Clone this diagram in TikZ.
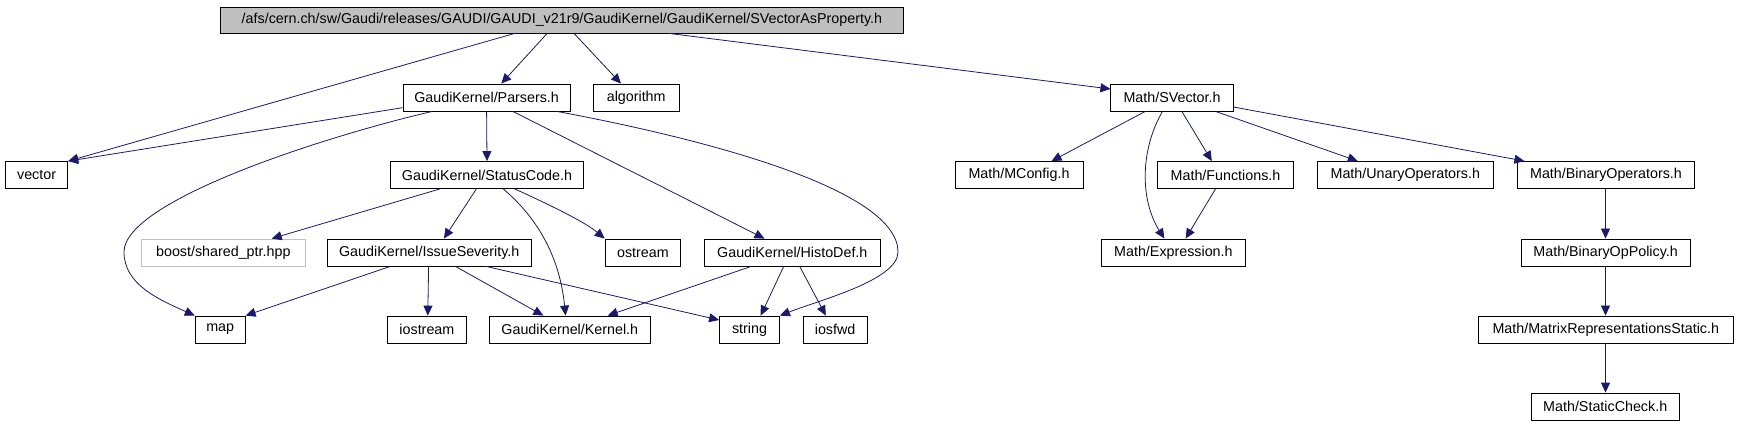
\documentclass[tikz,border=0pt]{standalone}
\usepackage{fontspec}
\setmainfont{Liberation Sans}
\usetikzlibrary{arrows.meta}
\definecolor{edgec}{HTML}{191970}
\definecolor{rootfill}{HTML}{BFBFBF}
\definecolor{grayb}{HTML}{BFBFBF}
\begin{document}
\begin{tikzpicture}[x=1pt,y=-1pt,
  box/.style={draw=black,line width=0.8pt,inner sep=0pt,minimum height=27pt,fill=white,
    font=\fontsize{14.3}{16}\selectfont},
  rootbox/.style={box,fill=rootfill,minimum height=26pt},
  graybox/.style={box,draw=grayb},
  edge/.style={draw=edgec,line width=0.8pt,-{Triangle[length=10pt,width=9pt]}}]
\path[use as bounding box] (0,0) rectangle (1737,427);

% row 0
\node[rootbox,minimum width=683pt] (root) at (561.9,20) {/afs/cern.ch/sw/Gaudi/releases/GAUDI/GAUDI\_v21r9/GaudiKernel/GaudiKernel/SVectorAsProperty.h};
% row 1
\node[box,minimum width=167.2pt] (parsers) at (486.6,97.5) {GaudiKernel/Parsers.h};
\node[box,minimum width=86.1pt] (algorithm) at (636.2,97.5) {algorithm};
\node[box,minimum width=122.3pt] (svector) at (1172,97.5) {Math/SVector.h};
% row 2
\node[box,minimum width=62.3pt] (vector) at (36.6,175) {vector};
\node[box,minimum width=193.3pt] (statuscode) at (487,175) {GaudiKernel/StatusCode.h};
\node[box,minimum width=127.8pt] (mconfig) at (1019,175) {Math/MConfig.h};
\node[box,minimum width=136pt] (functions) at (1225.5,175) {Math/Functions.h};
\node[box,minimum width=176pt] (unary) at (1405.3,175) {Math/UnaryOperators.h};
\node[box,minimum width=177.4pt] (binary) at (1606,175) {Math/BinaryOperators.h};
% row 3
\node[graybox,minimum width=164.2pt] (boost) at (223.3,252.5) {boost/shared\_ptr.hpp};
\node[box,minimum width=204pt] (issue) at (429.2,252.5) {GaudiKernel/IssueSeverity.h};
\node[box,minimum width=75.7pt] (ostream) at (642.9,252.5) {ostream};
\node[box,minimum width=176.4pt] (histodef) at (792.3,252.5) {GaudiKernel/HistoDef.h};
\node[box,minimum width=144.2pt] (expression) at (1173.4,252.5) {Math/Expression.h};
\node[box,minimum width=169.2pt] (binpolicy) at (1605.6,252.5) {Math/BinaryOpPolicy.h};
% row 4
\node[box,minimum width=50pt] (map) at (220.2,329.5) {map};
\node[box,minimum width=79.2pt] (iostream) at (426.9,329.5) {iostream};
\node[box,minimum width=160.7pt] (kernel) at (569.8,329.5) {GaudiKernel/Kernel.h};
\node[box,minimum width=60pt] (string) at (749.5,329.5) {string};
\node[box,minimum width=64pt] (iosfwd) at (835.1,329.5) {iosfwd};
\node[box,minimum width=255pt] (matrix) at (1605.8,329.5) {Math/MatrixRepresentationsStatic.h};
% row 5
\node[box,minimum width=148.2pt] (staticcheck) at (1605.2,406.5) {Math/StaticCheck.h};

% edges
\draw[edge] (root.south -| 514.7,0) -- (vector.north east);
\draw[edge] (parsers.west |- 0,107.7) -- (vector.north east);
\draw[edge] (root.south -| 547.2,0) -- (parsers.north -| 501.3,0);
\draw[edge] (root.south -| 574,0) -- (algorithm.north -| 621,0);
\draw[edge] (root.south -| 668.9,0) -- (svector.west |- 0,89);
\draw[edge] (parsers.south) -- (statuscode.north);
\draw[edge] (parsers.south -| 432.4,0) .. controls (330,135) and (124,200) .. (124,252)
  .. controls (124,285) and (160,300) .. (map.north west);
\draw[edge] (parsers.south -| 512.8,0) -- (histodef.north -| 764.5,0);
\draw[edge] (parsers.south -| 556.8,0) .. controls (710,140) and (898,190) .. (898,252)
  .. controls (898,280) and (820,300) .. (string.north east);
\draw[edge] (statuscode.south -| 440,0) -- (boost.north -| 271.7,0);
\draw[edge] (statuscode.south -| 476.4,0) -- (issue.north -| 443.9,0);
\draw[edge] (statuscode.south -| 503.2,0) .. controls (540,220) and (560,260) .. (kernel.north -| 565.6,0);
\draw[edge] (statuscode.south -| 514.7,0) .. controls (550,205) and (585,222) .. (ostream.north west);
\draw[edge] (issue.south -| 390.3,0) -- (map.north east);
\draw[edge] (issue.south -| 428.6,0) -- (iostream.north -| 427.8,0);
\draw[edge] (issue.south -| 455.4,0) -- (kernel.north -| 543.4,0);
\draw[edge] (issue.south -| 486,0) -- (string.west |- 0,320);
\draw[edge] (histodef.south -| 751.2,0) -- (kernel.north -| 607.7,0);
\draw[edge] (histodef.south -| 783.7,0) -- (string.north -| 760.7,0);
\draw[edge] (histodef.south -| 799.7,0) -- (iosfwd.north -| 825.8,0);
\draw[edge] (svector.south -| 1145.3,0) -- (mconfig.north -| 1051.5,0);
\draw[edge] (svector.south -| 1162.5,0) .. controls (1140,150) and (1140,200) .. (expression.north -| 1164.4,0);
\draw[edge] (svector.south -| 1181.8,0) -- (functions.north -| 1211.8,0);
\draw[edge] (svector.south -| 1215.5,0) -- (unary.north -| 1357.8,0);
\draw[edge] (svector.east |- 0,107) -- (binary.north -| 1524.4,0);
\draw[edge] (functions.south -| 1215.5,0) -- (expression.north -| 1185.6,0);
\draw[edge] (binary.south -| 1605.5,0) -- (binpolicy.north -| 1605.5,0);
\draw[edge] (binpolicy.south -| 1605.5,0) -- (matrix.north -| 1605.5,0);
\draw[edge] (matrix.south -| 1605.5,0) -- (staticcheck.north -| 1605.5,0);
\end{tikzpicture}
\end{document}
